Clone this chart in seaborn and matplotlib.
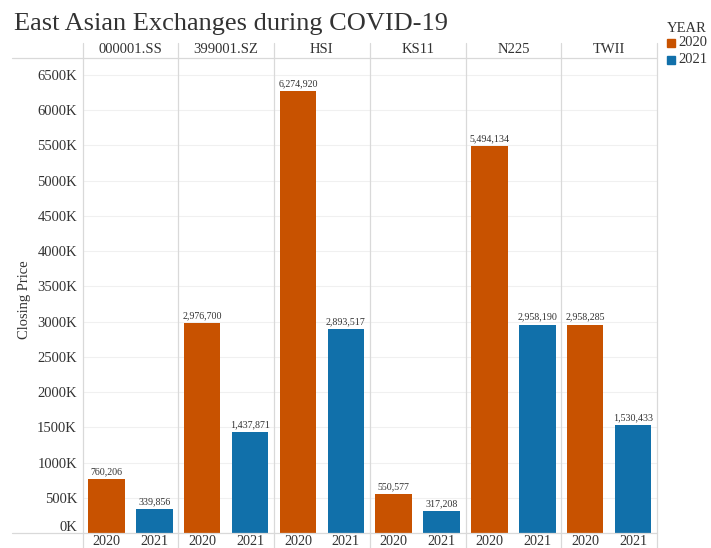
import matplotlib
matplotlib.use("Agg")
import matplotlib.pyplot as plt
import matplotlib.patches as mpatches
from matplotlib.lines import Line2D
from matplotlib.transforms import ScaledTranslation
import seaborn as sns
import pandas as pd

tickers = ["000001.SS", "399001.SZ", "HSI", "KS11", "N225", "TWII"]
years = ["2020", "2021"]
close_2020 = [760206, 2976700, 6274920, 550577, 5494134, 2958285]
close_2021 = [339856, 1437871, 2893517, 317208, 2958190, 1530433]
y_ticks = list(range(0, 6500001, 500000))

palette = {"2020": "#c85200", "2021": "#1170aa"}

sns.set_theme(style="white")
plt.rcParams["font.family"] = ["Liberation Serif", "DejaVu Serif"]
TXT = "#333333"

rows = []
for t, a, b in zip(tickers, close_2020, close_2021):
    rows.append({"ticker": t, "year": "2020", "close": a})
    rows.append({"ticker": t, "year": "2021", "close": b})
df = pd.DataFrame(rows)

W, H = 711, 548
fig = plt.figure(figsize=(W / 100, H / 100), dpi=100)
left_px, right_px, top_px, bot_px = 82.5, 657, 58, 533
n = len(tickers)
pw = (right_px - left_px) / n
ymax = 6740000

axes = []
for i, t in enumerate(tickers):
    x0 = left_px + i * pw
    ax = fig.add_axes([x0 / W, 1 - bot_px / H, pw / W, (bot_px - top_px) / H])
    axes.append(ax)
    sub = df[df["ticker"] == t]
    sns.barplot(data=sub, x="year", y="close", hue="year", order=years,
                hue_order=years, palette=palette, width=0.76, legend=False,
                ax=ax, saturation=1, edgecolor="none")
    ax.set_ylim(0, ymax)
    ax.set_xlim(-0.5, 1.5)
    ax.set_yticks(y_ticks)
    for y in y_ticks:
        ax.axhline(y, color="#f0f0f0", lw=0.8, zorder=0)
    for s in ax.spines.values():
        s.set_visible(False)
    ax.set_xlabel("")
    ax.set_ylabel("")
    ax.tick_params(axis="both", length=0)
    ax.tick_params(axis="x", labelsize=10.2, labelcolor=TXT, pad=1.5)
    if i == 0:
        ax.set_yticklabels([f"{int(v/1000)}K" for v in y_ticks], fontsize=10.5, color=TXT)
        ax.tick_params(axis="y", pad=4)
        lbls = ax.get_yticklabels()
        lbls[0].set_transform(lbls[0].get_transform() +
                              ScaledTranslation(0, 7 / 100, fig.dpi_scale_trans))
    else:
        ax.set_yticklabels([])
    for c in ax.containers:
        ax.bar_label(c, labels=[f"{int(v):,}" for v in c.datavalues],
                     fontsize=7.2, color=TXT, padding=2)
    # header
    hy = 1 + (top_px - 50) / (bot_px - top_px)
    ax.text(0.5, hy, t, transform=ax.transAxes, ha="center", va="center",
            fontsize=10.5, color=TXT)
    # separators
    ytop = 1 + (top_px - 43) / (bot_px - top_px)
    ybot = -(H - bot_px) / (bot_px - top_px)
    for xx in (0, 1):
        if xx == 1 and i < n - 1:
            continue
        ax.add_line(Line2D([xx, xx], [ybot, ytop], transform=ax.transAxes,
                           color="#d9d9d9", lw=0.9, clip_on=False))

# horizontal header/bottom lines
for ypx in (top_px, bot_px):
    fig.add_artist(Line2D([12 / W, right_px / W], [1 - ypx / H, 1 - ypx / H],
                          color="#d9d9d9", lw=0.9))

fig.text(25 / W, 1 - 300 / H, "Closing Price", rotation=90, ha="center",
         va="center", fontsize=10.5, color=TXT)
fig.text(14 / W, 1 - 24 / H, "East Asian Exchanges during COVID-19",
         ha="left", va="center", fontsize=19, color=TXT)

# legend
fig.text(667 / W, 1 - 28 / H, "YEAR", ha="left", va="center", fontsize=10.5, color=TXT)
for j, yr in enumerate(years):
    ycen = 43 + j * 16.5
    fig.add_artist(mpatches.Rectangle((667 / W, 1 - (ycen + 4) / H), 8 / W, 8 / H,
                                      color=palette[yr], transform=fig.transFigure))
    fig.text(678 / W, 1 - ycen / H, yr, ha="left", va="center", fontsize=10.5, color=TXT)

fig.savefig("out.png", dpi=100)
